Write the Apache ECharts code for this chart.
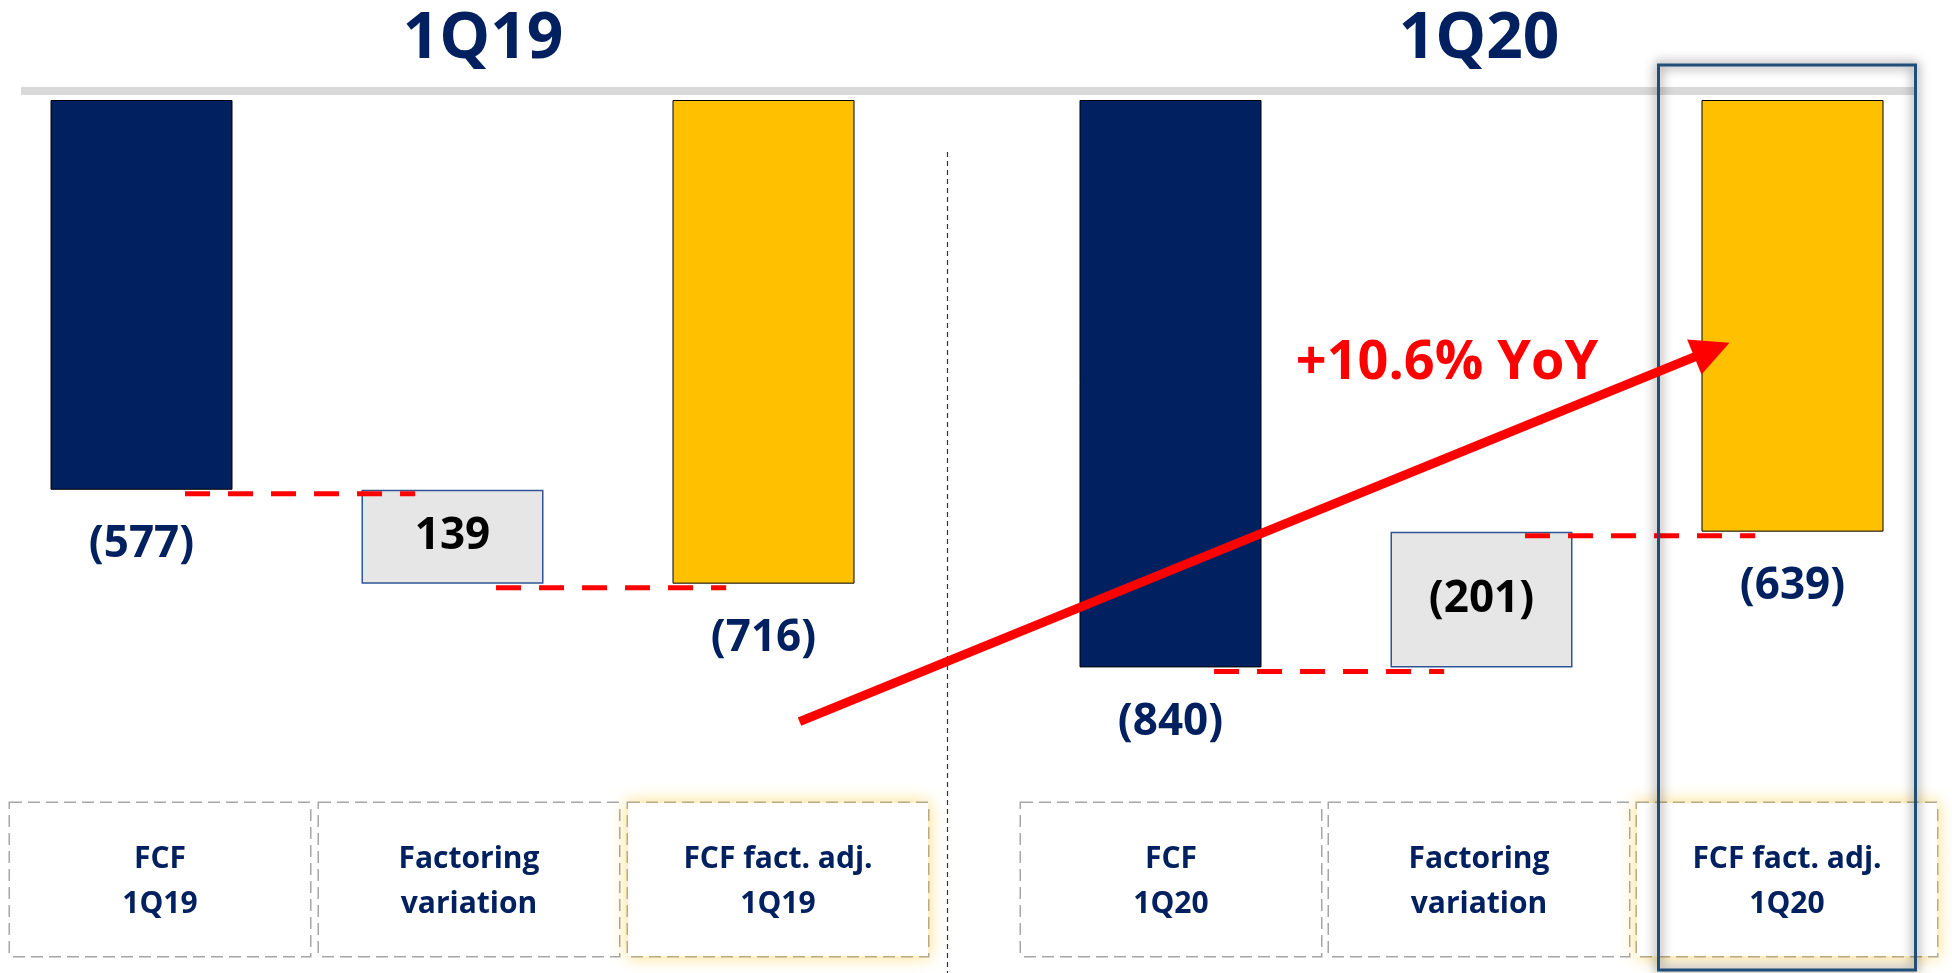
<!DOCTYPE html>
<html>
<head>
<meta charset="utf-8">
<script src="https://cdn.jsdelivr.net/npm/echarts@6/dist/echarts.min.js"></script>
<style>
  html, body { margin: 0; padding: 0; background: #fff; }
  #chart { width: 1952px; height: 973px; }
</style>
</head>
<body>
<div id="chart"></div>
<script>
// data
const periods = ['1Q19', '1Q20']
const categories = [
  ['FCF\n1Q19', 'Factoring\nvariation', 'FCF fact. adj.\n1Q19'],
  ['FCF\n1Q20', 'Factoring\nvariation', 'FCF fact. adj.\n1Q20'],
]
const fcf = [-577, -840]
const factoring = [139, -201]
const fcfAdj = [-716, -639]
const yoyText = '+10.6% YoY'

const NAVY = '#002060'
const YELLOW = '#FFC000'
const RED = '#FF0000'
const FONT = '"Open Sans", sans-serif'

function fmt(v) {
  return v < 0 ? '(' + Math.abs(v) + ')' : String(v)
}

const chart = echarts.init(document.getElementById('chart'), null, { renderer: 'canvas' })

const grids = [
  { left: -14, top: 100, width: 933, height: 675.5, outerBoundsMode: 'none' },
  { left: 1015, top: 100, width: 933, height: 675.5, outerBoundsMode: 'none' },
  { left: 5.5, top: 770, width: 927, height: 30, outerBoundsMode: 'none' },
  { left: 1017, top: 770, width: 924, height: 30, outerBoundsMode: 'none' },
]

const xAxes = []
const yAxes = []
const series = []

periods.forEach((p, i) => {
  xAxes.push({ type: 'category', gridIndex: i, data: categories[i], show: false })
  yAxes.push({ type: 'value', gridIndex: i, min: -1000, max: 0, show: false })

  const valueLabel = { position: 'bottom', distance: 33, color: NAVY }
  series.push({
    name: 'base ' + p,
    type: 'bar',
    xAxisIndex: i,
    yAxisIndex: i,
    stack: 'wf' + i,
    silent: true,
    barWidth: 182,
    itemStyle: { color: 'transparent' },
    data: [0, Math.max(fcf[i], fcfAdj[i]), 0],
  })
  series.push({
    name: p,
    type: 'bar',
    xAxisIndex: i,
    yAxisIndex: i,
    stack: 'wf' + i,
    barWidth: 182,
    label: {
      show: true,
      fontFamily: FONT,
      fontWeight: 'bold',
      fontSize: 44,
      lineHeight: 44,
      formatter: (d) => fmt([fcf[i], factoring[i], fcfAdj[i]][d.dataIndex]),
    },
    data: [
      { value: fcf[i], itemStyle: { color: NAVY, borderColor: '#000', borderWidth: 1 }, label: valueLabel },
      {
        value: -Math.abs(factoring[i]),
        itemStyle: { color: '#E7E6E6', borderColor: '#2F5597', borderWidth: 1.5 },
        label: { position: 'inside', color: '#000' },
      },
      { value: fcfAdj[i], itemStyle: { color: YELLOW, borderColor: '#000', borderWidth: 1 }, label: valueLabel },
    ],
  })
  // dashed connectors between the steps
  series.push({
    type: 'custom',
    xAxisIndex: i,
    yAxisIndex: i,
    silent: true,
    z: 5,
    data: [[0, fcf[i]], [1, fcfAdj[i]]],
    renderItem(params, api) {
      const k = api.value(0)
      const lvl = api.value(1)
      const band = api.size([1, 0])[0]
      const a = api.coord([k, lvl])
      const b = api.coord([k + 1, lvl])
      return {
        type: 'line',
        shape: { x1: a[0] + band * 0.14, y1: a[1] + 4, x2: b[0] - band * 0.12, y2: b[1] + 4 },
        style: { stroke: RED, lineWidth: 5, lineDash: [25, 18] },
      }
    },
  })
})

// category boxes under the bars
periods.forEach((p, i) => {
  xAxes.push({
    type: 'category',
    gridIndex: 2 + i,
    data: categories[i].map((c, k) =>
      k === 2
        ? { value: c, textStyle: { shadowColor: 'rgba(255,192,0,0.45)', shadowBlur: 16 } }
        : c,
    ),
    axisLine: { show: false },
    axisTick: { show: false },
    axisLabel: {
      interval: 0,
      margin: 3,
      width: 300,
      padding: [34, 0, 29, 0],
      lineHeight: 45,
      fontSize: 30,
      fontWeight: 'bold',
      fontFamily: FONT,
      color: NAVY,
      align: 'center',
      backgroundColor: '#fff',
      borderColor: '#A6A6A6',
      borderWidth: 1.5,
      borderType: 'dashed',
    },
  })
  yAxes.push({ type: 'value', gridIndex: 2 + i, min: 0, max: 1, show: false })
})

chart.setOption({
  backgroundColor: '#fff',
  animation: false,
  grid: grids,
  xAxis: xAxes,
  yAxis: yAxes,
  series: series,
})

// annotations: header, divider, highlight frame, YoY arrow
const adj0 = chart.convertToPixel({ xAxisIndex: 0, yAxisIndex: 0 }, [2, fcfAdj[0]])
const adj1 = chart.convertToPixel({ xAxisIndex: 1, yAxisIndex: 1 }, [2, fcfAdj[1]])
const box6 = chart.convertToPixel({ xAxisIndex: 3, yAxisIndex: 3 }, [2, 0])

const start = [adj0[0] + 36, adj0[1] + 138]
const tip = [adj1[0] - 63, adj1[1] - 189]
const dx = tip[0] - start[0]
const dy = tip[1] - start[1]
const len = Math.sqrt(dx * dx + dy * dy)
const ux = dx / len
const uy = dy / len
const headLen = 38
const headHalf = 19
const baseC = [tip[0] - ux * headLen, tip[1] - uy * headLen]

chart.setOption({
  graphic: [
    { type: 'rect', z: 1, shape: { x: 21, y: 87, width: 1896, height: 8 }, style: { fill: '#D9D9D9' } },
    {
      type: 'text', z: 1, x: 483, y: 40,
      style: { text: periods[0], fill: NAVY, font: 'bold 64px ' + FONT, align: 'center', verticalAlign: 'middle', textAlign: 'center', textVerticalAlign: 'middle' },
    },
    {
      type: 'text', z: 1, x: 1479, y: 40,
      style: { text: periods[1], fill: NAVY, font: 'bold 64px ' + FONT, align: 'center', verticalAlign: 'middle', textAlign: 'center', textVerticalAlign: 'middle' },
    },
    {
      type: 'line', z: 1, shape: { x1: 947.5, y1: 152, x2: 947.5, y2: 973 },
      style: { stroke: '#333', lineWidth: 1.2, lineDash: [5, 4] },
    },
    {
      type: 'rect', z: 20, shape: { x: box6[0] - 128.5, y: 65, width: 257, height: 905 },
      style: { fill: null, stroke: '#1F4E79', lineWidth: 3, shadowBlur: 12, shadowColor: 'rgba(0,0,0,0.75)' },
    },
    {
      type: 'line', z: 21, shape: { x1: start[0], y1: start[1], x2: baseC[0] + ux * 2, y2: baseC[1] + uy * 2 },
      style: { stroke: RED, lineWidth: 9 },
    },
    {
      type: 'polygon', z: 21,
      shape: {
        points: [
          tip,
          [baseC[0] - uy * headHalf, baseC[1] + ux * headHalf],
          [baseC[0] + uy * headHalf, baseC[1] - ux * headHalf],
        ],
      },
      style: { fill: RED },
    },
    {
      type: 'text', z: 21, x: 1447, y: 364,
      style: { text: yoyText, fill: RED, font: 'bold 54px ' + FONT, align: 'center', verticalAlign: 'middle', textAlign: 'center', textVerticalAlign: 'middle' },
    },
  ],
})

window.addEventListener('resize', () => chart.resize())
</script>
</body>
</html>
